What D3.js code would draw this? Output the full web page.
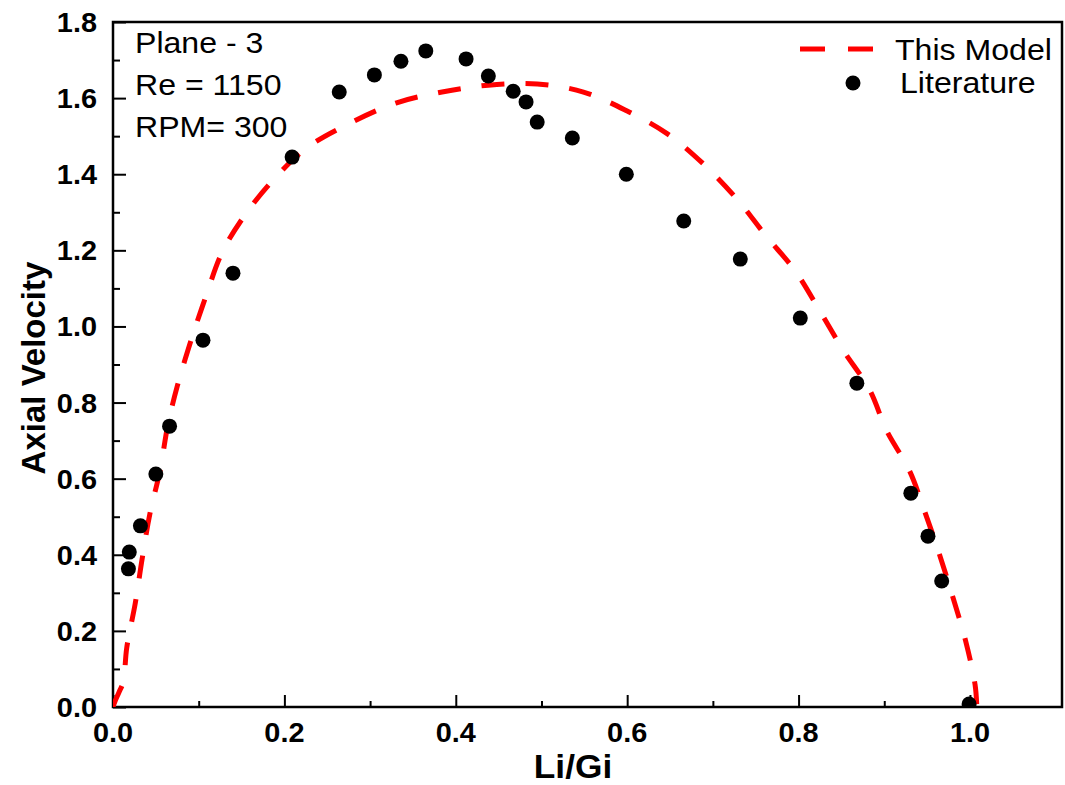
<!DOCTYPE html>
<html>
<head>
<meta charset="utf-8">
<script src="https://cdn.jsdelivr.net/npm/d3@7"></script>
<style>
  body { margin: 0; background: #fff; }
  svg text { font-family: Arial, "Liberation Sans", sans-serif; fill: #000; }
</style>
</head>
<body>
<svg id="chart" width="1065" height="785"></svg>
<script>
'use strict';

// literature points (Li/Gi, axial velocity)
const litX = [0.019, 0.018, 0.032, 0.050, 0.066, 0.105, 0.140, 0.209, 0.264, 0.305, 0.336, 0.365,
              0.412, 0.438, 0.467, 0.482, 0.495, 0.536, 0.599, 0.666, 0.732, 0.802, 0.868, 0.931,
              0.951, 0.967, 0.999]
const litY = [0.407, 0.363, 0.476, 0.612, 0.738, 0.964, 1.140, 1.445, 1.616, 1.661, 1.697, 1.724,
              1.703, 1.658, 1.618, 1.590, 1.537, 1.495, 1.400, 1.277, 1.177, 1.022, 0.851, 0.562,
              0.449, 0.331, 0.008]

// this model (dashed curve)
const modelX = [0.000, 0.002, 0.007, 0.012, 0.016, 0.026, 0.034, 0.043, 0.055, 0.064, 0.075, 0.092,
                0.109, 0.127, 0.154, 0.189, 0.226, 0.272, 0.330, 0.384, 0.438, 0.495, 0.549, 0.600,
                0.647, 0.688, 0.728, 0.762, 0.796, 0.825, 0.852, 0.883, 0.903, 0.929, 0.947, 0.965,
                0.980, 0.995, 1.006, 1.008]
const modelY = [0.000, 0.013, 0.039, 0.066, 0.155, 0.273, 0.389, 0.507, 0.623, 0.741, 0.843, 0.970,
                1.083, 1.193, 1.293, 1.390, 1.469, 1.529, 1.587, 1.616, 1.634, 1.637, 1.616, 1.566,
                1.506, 1.429, 1.335, 1.238, 1.146, 1.040, 0.938, 0.833, 0.725, 0.623, 0.515, 0.397,
                0.289, 0.173, 0.058, 0.000]

const xMajor = [0, 0.2, 0.4, 0.6, 0.8, 1.0]
const xMinor = [0.1, 0.3, 0.5, 0.7, 0.9]
const yMajor = [0, 0.2, 0.4, 0.6, 0.8, 1.0, 1.2, 1.4, 1.6, 1.8]
const yMinor = [0.1, 0.3, 0.5, 0.7, 0.9, 1.1, 1.3, 1.5, 1.7]

const infoLines = ['Plane - 3', 'Re = 1150', 'RPM= 300']
const legendNames = ['This Model', 'Literature']

const plot = { left: 113, right: 1062, top: 22, bottom: 707 }
const RED = '#ff0000'
const STRETCH = 1.07   // the original's lettering is a little wide

const svg = d3.select('#chart')

const x = d3.scaleLinear().domain([0, 1.1074]).range([plot.left, plot.right])
const y = d3.scaleLinear().domain([0, 1.8]).range([plot.bottom, plot.top])

svg.append('defs').append('clipPath').attr('id', 'clip')
  .append('rect')
    .attr('x', plot.left).attr('y', plot.top)
    .attr('width', plot.right - plot.left).attr('height', plot.bottom - plot.top)

const fmt = d3.format('.1f')

// bottom axis, ticks pointing inward
const xAxisG = svg.append('g').attr('transform', `translate(0,${plot.bottom})`)
xAxisG.call(d3.axisTop(x).tickValues(xMajor).tickSize(12).tickFormat(''))
xAxisG.append('g').call(d3.axisTop(x).tickValues(xMinor).tickSize(6).tickFormat(''))
xAxisG.selectAll('.domain').remove()
xAxisG.selectAll('line').attr('stroke', '#000').attr('stroke-width', 2)

svg.append('g').selectAll('text')
  .data(xMajor)
  .enter()
  .append('text')
    .attr('transform', (d) => `translate(${x(d)},${plot.bottom + 35}) scale(${STRETCH},1)`)
    .attr('text-anchor', 'middle')
    .attr('font-size', 27)
    .attr('font-weight', 'bold')
    .text((d) => fmt(d))

// left axis, ticks pointing inward
const yAxisG = svg.append('g').attr('transform', `translate(${plot.left},0)`)
yAxisG.call(d3.axisRight(y).tickValues(yMajor).tickSize(13).tickFormat(''))
yAxisG.append('g').call(d3.axisRight(y).tickValues(yMinor).tickSize(7).tickFormat(''))
yAxisG.selectAll('.domain').remove()
yAxisG.selectAll('line').attr('stroke', '#000').attr('stroke-width', 2)

svg.append('g').selectAll('text')
  .data(yMajor)
  .enter()
  .append('text')
    .attr('transform', (d) => `translate(${plot.left - 16},${y(d) + 10}) scale(${STRETCH},1)`)
    .attr('text-anchor', 'end')
    .attr('font-size', 27)
    .attr('font-weight', 'bold')
    .text((d) => fmt(d))

// frame
svg.append('rect')
  .attr('x', plot.left).attr('y', plot.top)
  .attr('width', plot.right - plot.left).attr('height', plot.bottom - plot.top)
  .attr('fill', 'none').attr('stroke', '#000').attr('stroke-width', 2.5)

// axis titles
svg.append('text')
  .attr('transform', `translate(573,778) scale(${STRETCH},1)`)
  .attr('text-anchor', 'middle')
  .attr('font-size', 33).attr('font-weight', 'bold')
  .text('Li/Gi')

svg.append('text')
  .attr('transform', 'translate(45,368) rotate(-90)')
  .attr('text-anchor', 'middle')
  .attr('font-size', 33).attr('font-weight', 'bold')
  .text('Axial Velocity')

// data
const chartG = svg.append('g').attr('clip-path', 'url(#clip)')

const modelData = modelX.map((v, i) => [v, modelY[i]])
const line = d3.line()
  .x((d) => x(d[0]))
  .y((d) => y(d[1]))
  .curve(d3.curveCatmullRom.alpha(0.5))

chartG.append('path')
  .datum(modelData)
  .attr('d', line)
  .attr('fill', 'none')
  .attr('stroke', RED)
  .attr('stroke-width', 5)
  .attr('stroke-dasharray', '23,21')

chartG.selectAll('circle.lit')
  .data(litX.map((v, i) => [v, litY[i]]))
  .enter()
  .append('circle')
    .attr('class', 'lit')
    .attr('cx', (d) => x(d[0]))
    .attr('cy', (d) => y(d[1]))
    .attr('r', 7.5)
    .attr('fill', '#000')

// annotation
svg.selectAll('text.info')
  .data(infoLines)
  .enter()
  .append('text')
    .attr('class', 'info')
    .attr('transform', (d, i) => `translate(135,${53 + i * 42}) scale(${STRETCH},1)`)
    .attr('font-size', 30)
    .text((d) => d)

// legend
const legend = svg.append('g')
legend.append('line')
  .attr('x1', 800).attr('x2', 873).attr('y1', 49).attr('y2', 49)
  .attr('stroke', RED).attr('stroke-width', 5).attr('stroke-dasharray', '25,23')
legend.append('circle')
  .attr('cx', 853).attr('cy', 83).attr('r', 7.5).attr('fill', '#000')
legend.selectAll('text')
  .data(legendNames)
  .enter()
  .append('text')
    .attr('transform', (d, i) => `translate(${i === 0 ? 895 : 900},${60 + i * 33}) scale(${STRETCH},1)`)
    .attr('font-size', 30)
    .text((d) => d)
</script>
</body>
</html>
